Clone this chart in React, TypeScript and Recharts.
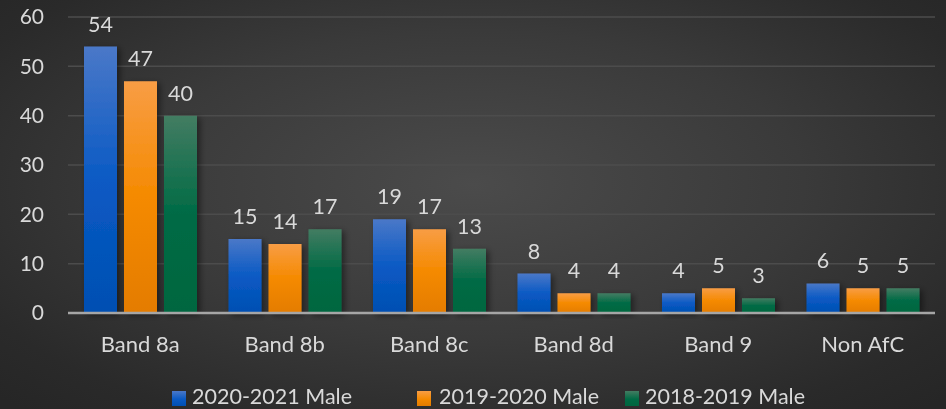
import React from "react";
import { BarChart, Bar, XAxis, YAxis, CartesianGrid, Legend, LabelList } from "recharts";

const categories = ["Band 8a", "Band 8b", "Band 8c", "Band 8d", "Band 9", "Non AfC"];
const male2020_2021 = [54, 15, 19, 8, 4, 6];
const male2019_2020 = [47, 14, 17, 4, 5, 5];
const male2018_2019 = [40, 17, 13, 4, 3, 5];
const yTicks = [0, 10, 20, 30, 40, 50, 60];

const seriesDefs = [
  { key: "s2021", name: "2020-2021 Male", values: male2020_2021, grad: "gBlue", top: "#4a78c8", mid: "#0a5ac4", bot: "#004fb2" },
  { key: "s2020", name: "2019-2020 Male", values: male2019_2020, grad: "gOrange", top: "#f89d45", mid: "#f58a00", bot: "#e47c00" },
  { key: "s2019", name: "2018-2019 Male", values: male2018_2019, grad: "gGreen", top: "#437c62", mid: "#006b45", bot: "#00663f" },
];

const data = categories.map((c, i) => {
  const row: Record<string, any> = { category: c };
  seriesDefs.forEach((s) => (row[s.key] = s.values[i]));
  return row;
});

const FONT = "Lato, 'Open Sans', sans-serif";
const TEXT = "#d9d9d9";

const itemWidths = [245, 208, 200];

const renderLegend = () => {
  return (
    <div style={{ display: "flex", paddingLeft: 172, paddingTop: 21, fontFamily: FONT, fontSize: 21.5, color: TEXT, lineHeight: "24px" }}>
      {seriesDefs.map((def, i) => (
        <div key={def.key} style={{ width: itemWidths[i], display: "flex", alignItems: "center", whiteSpace: "nowrap" }}>
          <span style={{ display: "inline-block", width: 14, height: 15, marginTop: 4, background: `linear-gradient(${def.top}, ${def.mid} 55%, ${def.bot})`, marginRight: i === 1 ? 8 : 6 }} />
          <span>{def.name}</span>
        </div>
      ))}
    </div>
  );
};

export default function App() {
  return (
    <div
      style={{
        position: "fixed",
        left: 0,
        top: 0,
        width: 946,
        height: 409,
        background: "radial-gradient(ellipse 70% 75% at 50% 45%, #4b4b4b 0%, #3a3a3a 50%, #2a2a2a 85%, #262626 100%)",
      }}
    >
      <BarChart
        width={946}
        height={409}
        data={data}
        margin={{ top: 17, right: 11, left: 0, bottom: 0 }}
        barCategoryGap={16}
        barGap={7}
      >
        <defs>
          {seriesDefs.map((s) => (
            <linearGradient key={s.grad} id={s.grad} x1="0" y1="0" x2="0" y2="1">
              <stop offset="0%" stopColor={s.top} />
              <stop offset="50%" stopColor={s.mid} />
              <stop offset="100%" stopColor={s.bot} />
            </linearGradient>
          ))}
          <filter id="shadow" x="-20%" y="-20%" width="150%" height="150%">
            <feDropShadow dx="3" dy="2" stdDeviation="3" floodColor="#000" floodOpacity="0.45" />
          </filter>
        </defs>
        <CartesianGrid vertical={false} stroke="#4c4c4c" strokeWidth={1.5} />
        <XAxis
          dataKey="category"
          height={50}
          axisLine={{ stroke: "#a6a6a6", strokeWidth: 2.5 }}
          tickLine={false}
          tickSize={0}
          tickMargin={23}
          tick={{ fill: TEXT, fontSize: 22, fontFamily: FONT }}
          interval={0}
        />
        <YAxis
          domain={[0, 60]}
          ticks={yTicks}
          width={68}
          axisLine={false}
          tickLine={false}
          tickSize={0}
          tickMargin={24}
          tick={{ fill: TEXT, fontSize: 21, fontFamily: FONT }}
          interval={0}
        />
        <Legend verticalAlign="bottom" height={46} content={renderLegend} />
        {seriesDefs.map((s) => (
          <Bar key={s.key} dataKey={s.key} name={s.name} fill={`url(#${s.grad})`} isAnimationActive={false} filter="url(#shadow)">
            <LabelList dataKey={s.key} position="top" offset={15} fill={TEXT} fontSize={21.5} fontFamily={FONT} />
          </Bar>
        ))}
      </BarChart>
    </div>
  );
}
